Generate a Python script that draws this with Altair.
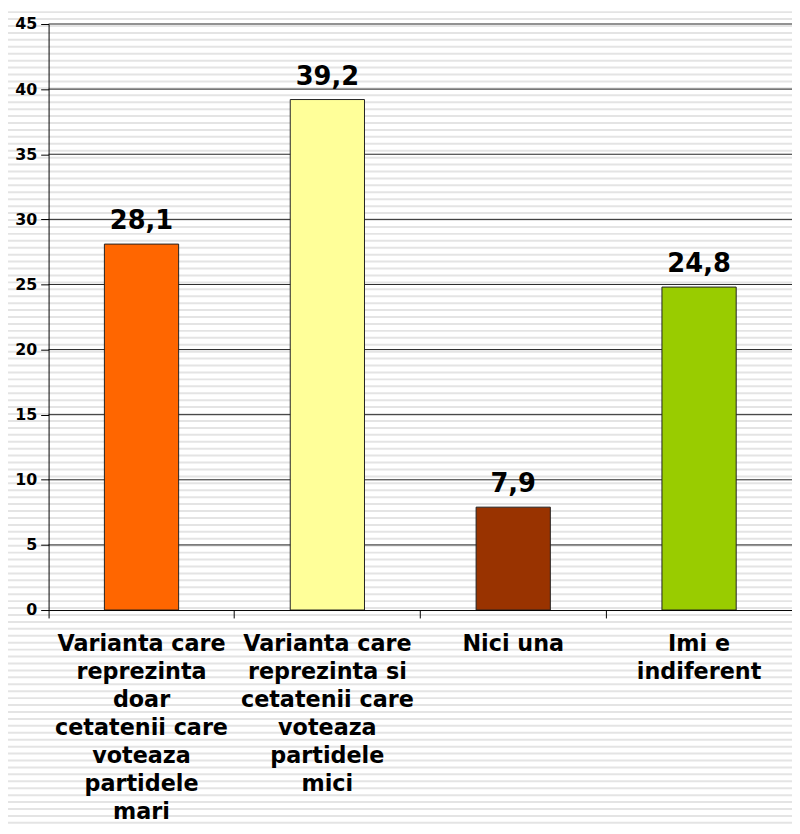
import altair as alt
import pandas as pd

categories = [
    "Varianta care|reprezinta|doar|cetatenii care|voteaza|partidele|mari",
    "Varianta care|reprezinta si|cetatenii care|voteaza|partidele|mici",
    "Nici una",
    "Imi e|indiferent",
]
values = [28.1, 39.2, 7.9, 24.8]
colors = ["#FF6600", "#FFFF99", "#993300", "#99CC00"]
y_ticks = [0, 5, 10, 15, 20, 25, 30, 35, 40, 45]

df = pd.DataFrame({"cat": categories, "v": values, "c": colors})
grid_df = pd.DataFrame({"g": y_ticks[1:]})

# decorative striped background (pixel positions of the pattern)
stripe_rows = list(range(-12, 830, 7))
stripes = pd.DataFrame({"s": stripe_rows})

W, H = 751, 592
FONT = "DejaVu Sans"
yscale = alt.Scale(domain=[0, 45], nice=False)

bg = alt.Chart(stripes).mark_rule(color="#e4e4e4", strokeWidth=2, clip=False).encode(
    y=alt.Y("s:Q", scale=alt.Scale(domain=[-12, 830], range=[-12, 830]), axis=None),
    x=alt.value(-41),
    x2=alt.value(W + 10),
)

grid = alt.Chart(grid_df).mark_rule(color="#222222", strokeWidth=1).encode(
    y=alt.Y("g:Q", scale=yscale, axis=None),
)

xenc = alt.X(
    "cat:N",
    sort=categories,
    scale=alt.Scale(paddingInner=0, paddingOuter=0),
    axis=alt.Axis(
        title=None,
        labelAngle=0,
        labelExpr="split(datum.label, '|')",
        labelFont=FONT,
        labelFontWeight="bold",
        labelFontSize=22.5,
        labelColor="black",
        labelLineHeight=28.2,
        labelPadding=15,
        labelBaseline="top",
        bandPosition=0,
        tickSize=8,
        tickColor="black",
        domainColor="black",
        grid=False,
        labelLimit=300,
        zindex=1,
    ),
)

bars = alt.Chart(df).mark_bar(size=75, stroke="#222222", strokeWidth=1).encode(
    x=xenc,
    y=alt.Y(
        "v:Q",
        scale=yscale,
        axis=alt.Axis(
            title=None,
            values=y_ticks,
            labelFont=FONT,
            labelFontWeight="bold",
            labelFontSize=16,
            labelColor="black",
            labelPadding=4,
            tickSize=8,
            tickColor="black",
            domainColor="black",
            grid=False,
            zindex=1,
        ),
    ),
    color=alt.Color("c:N", scale=None),
)

text = alt.Chart(df).transform_calculate(
    lbl="replace(format(datum.v, '.1f'), '.', ',')"
).mark_text(
    font=FONT, fontWeight="bold", fontSize=26, baseline="bottom", dy=-10, color="black"
).encode(
    x=alt.X("cat:N", sort=categories),
    y=alt.Y("v:Q", scale=yscale, axis=None),
    text="lbl:N",
)

chart = (
    alt.layer(bg, grid, bars, text)
    .resolve_scale(y="independent")
    .properties(
        width=W,
        height=H,
        background="white",
        padding={"left": 41, "top": 12, "right": 0, "bottom": 214},
        autosize=alt.AutoSizeParams(type="none"),
    )
    .configure_view(stroke=None)
)

chart.save("out.html", embed_options={"renderer": "svg", "actions": False})
